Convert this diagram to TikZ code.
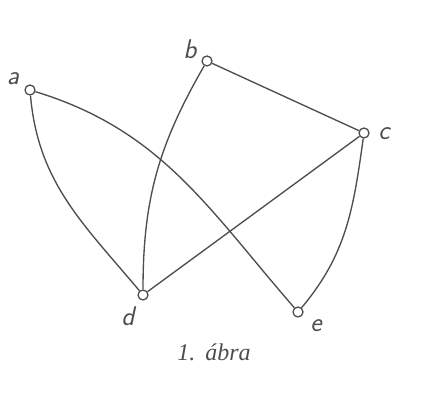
\documentclass[tikz,border=0pt]{standalone}
\usepackage{fontspec}
\setmainfont{Liberation Serif}
\usetikzlibrary{positioning}
\definecolor{ink}{RGB}{78,78,78}
\tikzset{
  vertex/.style={circle,draw=ink,line width=1.3pt,fill=white,minimum size=10pt,inner sep=0pt},
  vlabel/.style={font=\fontsize{27}{27}\selectfont\sffamily\itshape,text=ink,inner sep=0pt},
  edge/.style={draw=ink,line width=1.35pt},
  caption/.style={font=\fontsize{24}{24}\selectfont\itshape,text=ink,inner sep=0pt}
}
\begin{document}
\begin{tikzpicture}[x=1pt,y=1pt]
  \useasboundingbox (0,0) rectangle (435,398);
  % vertices
  \node[vertex] (a) at (30,308) {};
  \node[vertex] (b) at (207,337) {};
  \node[vertex] (c) at (364,265) {};
  \node[vertex] (d) at (143,103) {};
  \node[vertex] (e) at (298,86) {};
  % vertex labels
  \node[vlabel] (la) at (13,319) {a};
  \node[vlabel] (lb) at (190,349) {b};
  \node[vlabel] (lc) at (384,264) {c};
  \node[vlabel] (ld) at (128,82) {d};
  \node[vlabel] (le) at (316,72) {e};
  % edges
  \draw[edge] (a) to[out=-85,in=130] (d);
  \draw[edge] (a) to[out=-17,in=131] (e);
  \draw[edge] (b) to[out=-120,in=90] (d);
  \draw[edge] (b) -- (c);
  \draw[edge] (c) -- (d);
  \draw[edge] (c) to[out=-98,in=50] (e);
  \node[caption] (cap) at (214,46) {1.\,\ ábra};
\end{tikzpicture}
\end{document}
